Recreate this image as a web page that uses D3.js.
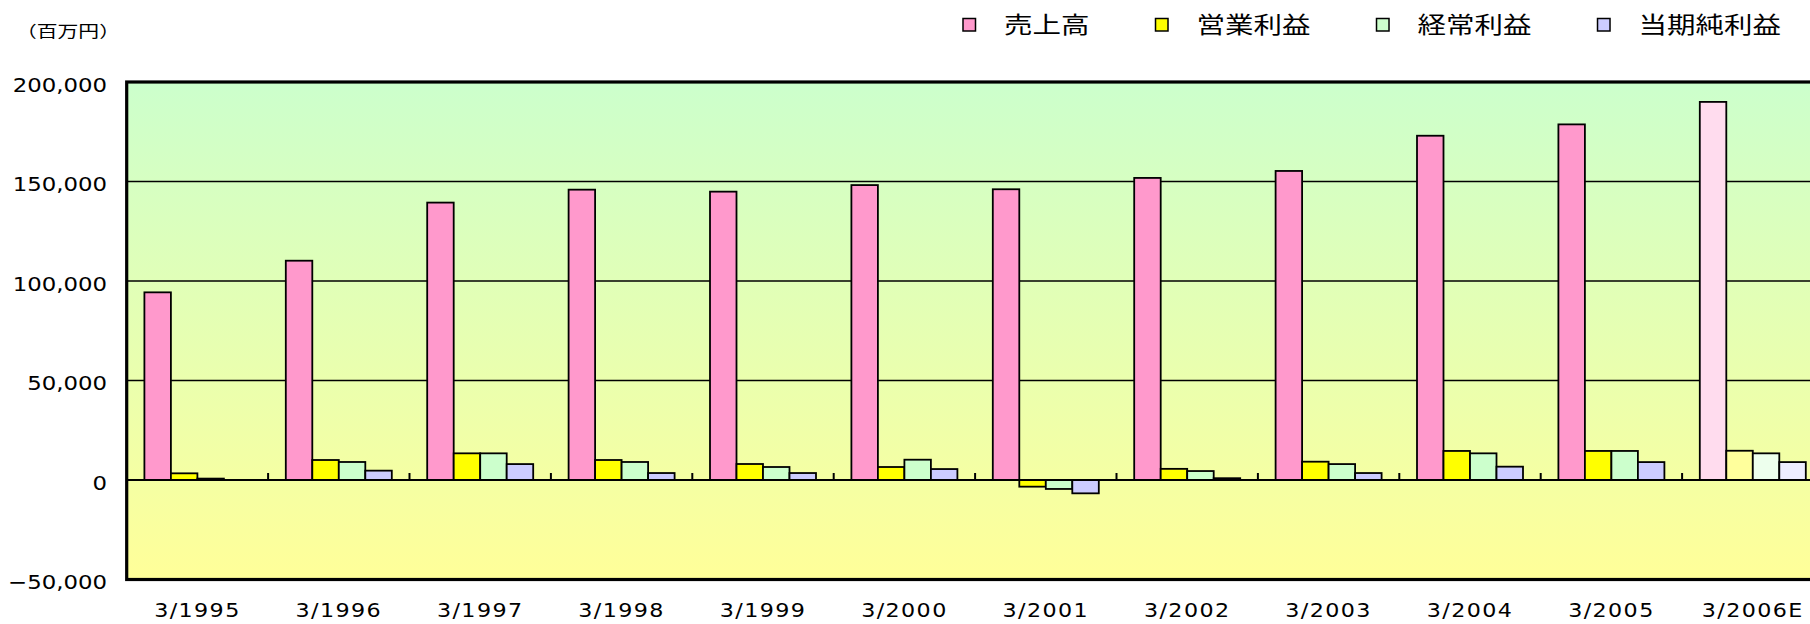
<!DOCTYPE html>
<html>
<head>
<meta charset="utf-8">
<script src="https://cdn.jsdelivr.net/npm/d3@7"></script>
<style>
  html, body { margin: 0; padding: 0; background: #ffffff; }
  svg { display: block; }
</style>
</head>
<body>
<svg id="chart" width="1810" height="624"></svg>
<script>
// ---- data ----
const categories = ["3/1995","3/1996","3/1997","3/1998","3/1999","3/2000","3/2001","3/2002","3/2003","3/2004","3/2005","3/2006E"];
const seriesNames = ["売上高","営業利益","経常利益","当期純利益"];
const sales     = [94300,110200,139400,145900,144900,148200,146100,151800,155300,173000,178700,190000];
const operating = [3350,10050,13400,10050,8040,6530,-3350,5600,9200,14600,14600,14700];
const ordinary  = [700,9050,13400,9050,6530,10200,-4500,4500,8000,13400,14600,13400];
const netIncome = [null,4700,8000,3500,3500,5500,-6700,900,3500,6700,9000,9000];
const yTicks = [-50000,0,50000,100000,150000,200000];
const unitLabel = "（百万円）";
const estimateCategory = "3/2006E";

const seriesValues = [sales, operating, ordinary, netIncome];
const seriesColors = ["#FF99CC","#FFFF00","#CCFFCC","#CCCCFF"];
const estimateColors = ["#FFDCEE","#FFFF9C","#EDFFED","#EDEDFF"];

// ---- layout ----
const svg = d3.select("#chart");
const plotLeft = 126.7, bandW = 141.4;
const plotTop = 82, plotBottom = 579.5;
const plotRight = plotLeft + bandW * categories.length;

const x0 = d3.scaleBand().domain(categories).range([plotLeft, plotRight]).paddingInner(0).paddingOuter(0);
const groupOffset = 17.7, groupW = 106;
const x1 = d3.scaleBand().domain(d3.range(seriesNames.length)).range([groupOffset, groupOffset + groupW]).padding(0);
const y = d3.scaleLinear().domain([-50000, 200000]).range([plotBottom, plotTop]);

const defs = svg.append("defs");
const grad = defs.append("linearGradient").attr("id","bg").attr("x1",0).attr("y1",0).attr("x2",0).attr("y2",1);
grad.append("stop").attr("offset","0%").attr("stop-color","#CCFFCC");
grad.append("stop").attr("offset","100%").attr("stop-color","#FFFF99");

// background
svg.append("rect").attr("x",plotLeft).attr("y",plotTop)
  .attr("width",plotRight-plotLeft).attr("height",plotBottom-plotTop)
  .attr("fill","url(#bg)");

// gridlines
svg.append("g").selectAll("line").data(yTicks.filter(t => t > 0 && t < 200000)).join("line")
  .attr("x1",plotLeft).attr("x2",plotRight)
  .attr("y1",d=>y(d)).attr("y2",d=>y(d))
  .attr("stroke","#000").attr("stroke-width",1.6);

// bars
const flat = [];
categories.forEach((c,i) => {
  seriesValues.forEach((arr,s) => {
    if (arr[i] !== null && arr[i] !== undefined) flat.push({c, s, v: arr[i]});
  });
});
svg.append("g").selectAll("rect").data(flat).join("rect")
  .attr("x", d => x0(d.c) + x1(d.s))
  .attr("width", x1.bandwidth())
  .attr("y", d => y(Math.max(0, d.v)))
  .attr("height", d => Math.abs(y(d.v) - y(0)))
  .attr("fill", d => d.c === estimateCategory ? estimateColors[d.s] : seriesColors[d.s])
  .attr("stroke","#000").attr("stroke-width",1.8);

// zero axis + ticks
svg.append("line").attr("x1",plotLeft).attr("x2",plotRight)
  .attr("y1",y(0)).attr("y2",y(0)).attr("stroke","#000").attr("stroke-width",2.2);
svg.append("g").selectAll("line").data(categories.slice(1)).join("line")
  .attr("x1",d=>x0(d)).attr("x2",d=>x0(d))
  .attr("y1",y(0)).attr("y2",y(0)-7)
  .attr("stroke","#000").attr("stroke-width",2);

// border
svg.append("rect").attr("x",plotLeft).attr("y",plotTop)
  .attr("width",plotRight-plotLeft).attr("height",plotBottom-plotTop)
  .attr("fill","none").attr("stroke","#000").attr("stroke-width",3.2);

// helper for horizontally stretched text
function stretchedText(g, x, yPos, str, opts) {
  const t = g.append("text")
    .attr("transform", `translate(${x},${yPos}) scale(${opts.sx},1)`)
    .attr("font-family", opts.font)
    .attr("font-size", opts.size)
    .attr("text-anchor", opts.anchor || "start")
    .attr("fill", "#000")
    .text(str);
  if (opts.ls) t.attr("letter-spacing", opts.ls);
  return t;
}

// y labels
const fmt = d3.format(",");
const yl = svg.append("g");
yTicks.forEach(t => {
  stretchedText(yl, 107, y(t) + 9.8, fmt(t), {sx:1.17, font:"DejaVu Sans", size:19.5, anchor:"end"});
});

// x labels
const xl = svg.append("g");
categories.forEach(c => {
  stretchedText(xl, x0(c) + x0.bandwidth()/2, 617, c, {sx:1.17, font:"DejaVu Sans", size:19, anchor:"middle", ls:1.2});
});

// unit label
stretchedText(svg, 16, 37, unitLabel, {sx:1.3, font:"Noto Sans CJK JP", size:16});

// legend
const lg = svg.append("g");
let lx = 963;
seriesNames.forEach((name, i) => {
  lg.append("rect").attr("x",lx).attr("y",18.5).attr("width",12.5).attr("height",12.5)
    .attr("fill",seriesColors[i]).attr("stroke","#000").attr("stroke-width",1.5);
  const t = stretchedText(lg, lx + 41, 33, name, {sx:1.24, font:"Noto Sans CJK JP", size:23});
  const w = t.node().getComputedTextLength() * 1.24;
  lx = lx + 41 + w + 66;
});
</script>
</body>
</html>
